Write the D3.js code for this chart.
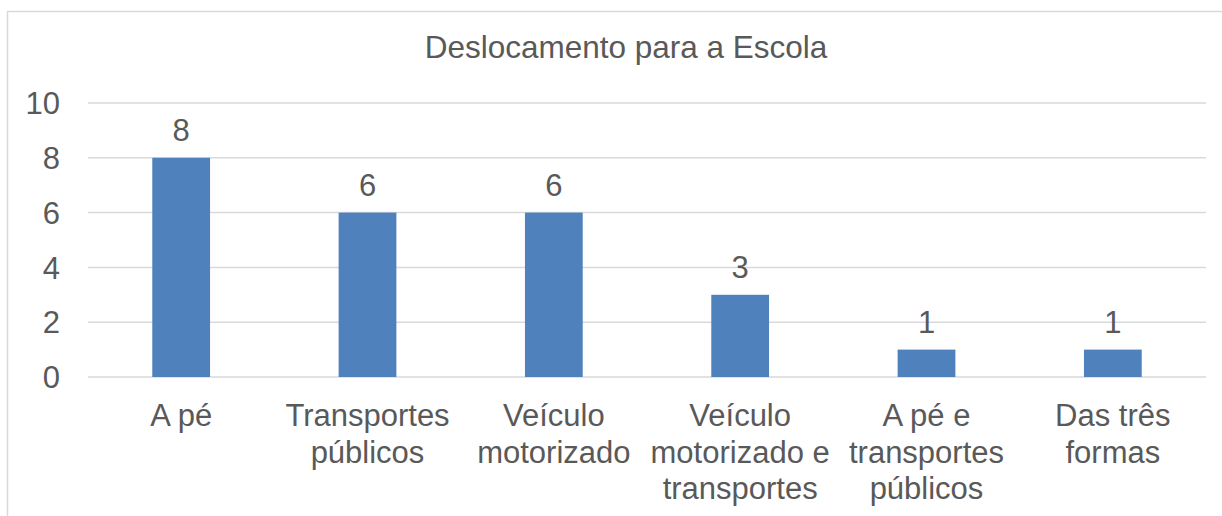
<!DOCTYPE html>
<html>
<head>
<meta charset="utf-8">
<script src="https://cdn.jsdelivr.net/npm/d3@7"></script>
<style>
  body { margin: 0; background: #fff; }
  svg text { font-family: "Liberation Sans", Arial, sans-serif; fill: #595959; }
</style>
</head>
<body>
<svg id="chart" width="1222" height="516"></svg>
<script>
// chart data
var title = "Deslocamento para a Escola";
var categories = [
  ["A pé"],
  ["Transportes", "públicos"],
  ["Veículo", "motorizado"],
  ["Veículo", "motorizado e", "transportes"],
  ["A pé e", "transportes", "públicos"],
  ["Das três", "formas"]
];
var values = [8, 6, 6, 3, 1, 1];
var yTicks = [0, 2, 4, 6, 8, 10];

var svg = d3.select("#chart");
var margin = {left: 88, right: 1206, top: 103, bottom: 377};

// outer frame (cut off at right and bottom like the original)
svg.append("rect")
  .attr("x", 7.5).attr("y", 11.5)
  .attr("width", 1240).attr("height", 540)
  .attr("fill", "none")
  .attr("stroke", "#d9d9d9")
  .attr("stroke-width", 1.5);

var keys = categories.map(function(d) { return d.join(" "); });

var x = d3.scaleBand()
  .domain(keys)
  .range([margin.left, margin.right])
  .paddingInner(0.69)
  .paddingOuter(0.345);

var y = d3.scaleLinear()
  .domain([0, 10])
  .range([margin.bottom, margin.top]);

// gridlines
svg.append("g")
  .selectAll("line")
  .data(yTicks)
  .enter().append("line")
  .attr("x1", margin.left).attr("x2", margin.right)
  .attr("y1", function(d) { return y(d); })
  .attr("y2", function(d) { return y(d); })
  .attr("stroke", "#d9d9d9")
  .attr("stroke-width", 1.5);

// y tick labels
svg.append("g")
  .selectAll("text")
  .data(yTicks)
  .enter().append("text")
  .attr("x", 60)
  .attr("y", function(d) { return y(d); })
  .attr("dy", "0.36em")
  .attr("text-anchor", "end")
  .style("font-size", "31px")
  .text(function(d) { return d; });

// bars
svg.append("g")
  .selectAll("rect")
  .data(values)
  .enter().append("rect")
  .attr("x", function(d, i) { return x(keys[i]); })
  .attr("y", function(d) { return y(d); })
  .attr("width", x.bandwidth())
  .attr("height", function(d) { return y(0) - y(d); })
  .attr("fill", "#4f81bd");

// data labels
svg.append("g")
  .selectAll("text")
  .data(values)
  .enter().append("text")
  .attr("x", function(d, i) { return x(keys[i]) + x.bandwidth() / 2; })
  .attr("y", function(d) { return y(d) - 17; })
  .attr("text-anchor", "middle")
  .style("font-size", "31px")
  .text(function(d) { return d; });

// category labels
var cat = svg.append("g")
  .selectAll("text")
  .data(categories)
  .enter().append("text")
  .attr("text-anchor", "middle")
  .style("font-size", "31px");

cat.selectAll("tspan")
  .data(function(d, i) { return d.map(function(s) { return {s: s, i: i}; }); })
  .enter().append("tspan")
  .attr("x", function(d) { return x(keys[d.i]) + x.bandwidth() / 2; })
  .attr("y", function(d, j) { return 426 + j * 36.5; })
  .text(function(d) { return d.s; });

// title
svg.append("text")
  .attr("x", 626)
  .attr("y", 58)
  .attr("text-anchor", "middle")
  .style("font-size", "31.5px")
  .text(title);
</script>
</body>
</html>
